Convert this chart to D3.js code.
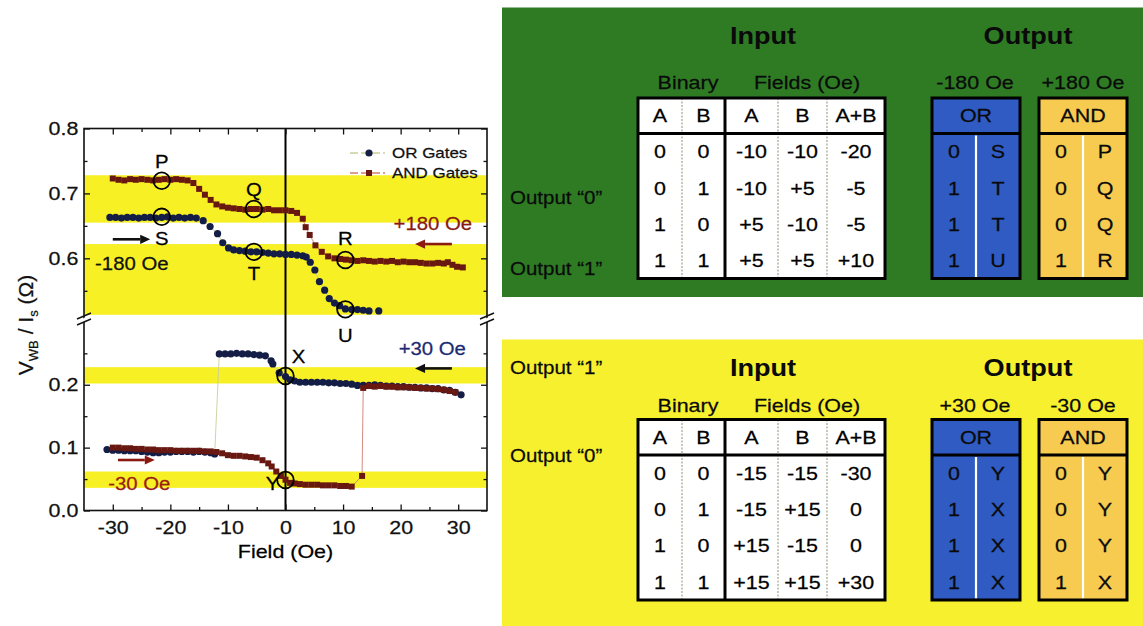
<!DOCTYPE html>
<html>
<head>
<meta charset="utf-8">
<script src="https://cdn.jsdelivr.net/npm/d3@7"></script>
<style>
  html, body { margin: 0; padding: 0; background: #fff; }
  svg { display: block; font-family: "Liberation Sans", Arial, Helvetica, sans-serif; }
</style>
</head>
<body>
<svg id="fig" width="1143" height="626"></svg>
<script>
// ---------- measured series: [field (Oe), V_WB / I_s (Ohm)] ----------
const andUpper = [
  [-30,0.723],[-29,0.721],[-28,0.720],[-27,0.722],[-26,0.721],[-25,0.722],[-24,0.721],[-23,0.720],
  [-22,0.721],[-21,0.722],[-20,0.721],[-19,0.722],[-18,0.721],[-17,0.720],[-16,0.716],[-15,0.707],
  [-14,0.698],[-13,0.690],[-12,0.683],[-11,0.680],[-10,0.678],[-9,0.677],[-8,0.676],[-7,0.675],
  [-6,0.676],[-5,0.676],[-4,0.675],[-3,0.676],[-2,0.674],[-1,0.674],[0,0.674],[1,0.673],[2,0.670],
  [3,0.661],[3.5,0.648],[4.2,0.636],[5.2,0.620],[6.3,0.610],[7.4,0.603],[8.5,0.600],[9.5,0.599],
  [10.5,0.598],[11.5,0.597],[12.5,0.596],[13.5,0.597],[14.5,0.596],[15.5,0.595],[16.5,0.596],
  [17.5,0.595],[18.5,0.596],[19.5,0.594],[20.5,0.595],[21.5,0.594],[22.5,0.594],[23.5,0.593],
  [24.5,0.592],[25.5,0.592],[26.5,0.593],[27.5,0.592],[28.2,0.594],[29,0.590],[29.8,0.587],[30.8,0.586]
];
const orUpper = [
  [-30.5,0.663],[-29.5,0.663],[-28.5,0.662],[-27.5,0.663],[-26.5,0.663],[-25.5,0.662],[-24.5,0.663],
  [-23.5,0.663],[-22.5,0.662],[-21.5,0.663],[-20.5,0.664],[-19.5,0.662],[-18.5,0.663],[-17.5,0.662],
  [-16.5,0.663],[-15.5,0.662],[-14.3,0.658],[-13.1,0.649],[-11.8,0.638],[-10.9,0.624],[-9.9,0.616],
  [-9,0.613],[-8,0.612],[-7,0.611],[-6,0.610],[-5,0.610],[-4,0.609],[-3,0.608],[-2,0.607],[-1,0.607],
  [0,0.606],[1,0.606],[2,0.605],[3,0.604],[3.6,0.602],[4.3,0.594],[5.1,0.582],[5.9,0.564],[6.8,0.551],
  [7.6,0.538],[8.5,0.531],[9.4,0.527],[10.4,0.522],[11.5,0.521],[12.5,0.521],[13.5,0.520],[14.5,0.519],
  [16.2,0.519]
];
const orLower = [
  [-31,0.097],[-30,0.096],[-29,0.096],[-28,0.095],[-27,0.095],[-26,0.095],[-25,0.094],[-24,0.093],
  [-23,0.092],[-22,0.092],[-21,0.093],[-20,0.093],[-19,0.094],[-18,0.094],[-17,0.094],[-16,0.093],
  [-15,0.094],[-14,0.093],[-13,0.092],[-12.3,0.090],[-11.5,0.249],[-10.5,0.249],[-9.5,0.249],
  [-8.5,0.250],[-7.5,0.249],[-6.5,0.249],[-5.5,0.248],[-4.5,0.247],[-3.5,0.246],[-2.5,0.238],
  [-2.2,0.233],[-1.1,0.219],[0,0.213],[0.8,0.208],[1.6,0.206],[2.5,0.204],[3.5,0.204],[4.5,0.204],
  [5.5,0.204],[6.5,0.204],[7.5,0.203],[8.5,0.203],[9.5,0.202],[10.5,0.202],[11.5,0.201],[12.5,0.199],
  [13.5,0.199],[14.5,0.199],[15.5,0.200],[16.5,0.199],[17.5,0.198],[18.5,0.198],[19.5,0.197],
  [20.5,0.197],[21.5,0.196],[22.5,0.196],[23.5,0.195],[24.5,0.195],[25.5,0.194],[26.5,0.194],
  [27.5,0.192],[28.5,0.191],[29.5,0.188],[30.5,0.184]
];
const andLower = [
  [-30,0.100],[-29,0.100],[-28,0.099],[-27,0.099],[-26,0.098],[-25,0.098],[-24,0.097],[-23,0.097],
  [-22,0.096],[-21,0.096],[-20,0.096],[-19,0.095],[-18,0.095],[-17,0.095],[-16,0.095],[-15,0.095],
  [-14,0.094],[-13,0.094],[-12,0.093],[-11,0.091],[-10,0.088],[-9,0.087],[-8,0.087],[-7,0.086],
  [-6,0.085],[-5,0.084],[-4,0.080],[-3,0.075],[-2.4,0.070],[-1.6,0.062],[-0.8,0.055],[0,0.049],
  [0.8,0.044],[1.6,0.043],[2.5,0.042],[3.5,0.041],[4.5,0.041],[5.5,0.041],[6.5,0.040],[7.5,0.040],
  [8.5,0.040],[9.5,0.039],[10.5,0.039],[11.5,0.038],[13.3,0.055],[13.5,0.195],[14.5,0.198],
  [15.5,0.197],[16.5,0.198],[17.5,0.197],[18.5,0.197],[19.5,0.196],[20.5,0.196],[21.5,0.196],
  [22.5,0.195],[23.5,0.195],[24.5,0.194],[25.5,0.194],[26.5,0.193],[27.5,0.192],[28.5,0.190],[29.5,0.188]
];

// ---------- axes ----------
const xDomain = [-35, 35];
const xTicks = [-30, -20, -10, 0, 10, 20, 30];
const xMinor = [-25, -15, -5, 5, 15, 25];
const yUpperDomain = [0.505, 0.8];
const yUpperTicks = [0.6, 0.7, 0.8];
const yUpperMinor = [0.55, 0.65, 0.75];
const yLowerDomain = [0, 0.303];
const yLowerTicks = [0, 0.1, 0.2];
const yLowerMinor = [0.05, 0.15, 0.25];

// output-level windows (shaded)
const upperBands = [[0.655, 0.728], [0.513, 0.622]];
const lowerBands = [[0.202, 0.228], [0.036, 0.062]];

// labelled states
const upperStates = [
  { id: "P", x: -21.5, y: 0.7195, dx: 0, dy: -19 },
  { id: "S", x: -21.5, y: 0.664, dx: 0, dy: 22 },
  { id: "Q", x: -5.5, y: 0.676, dx: 0, dy: -19 },
  { id: "T", x: -5.5, y: 0.610, dx: 0, dy: 22 },
  { id: "R", x: 10.4, y: 0.5974, dx: 0, dy: -21 },
  { id: "U", x: 10.4, y: 0.5214, dx: 0, dy: 26 }
];
const lowerStates = [
  { id: "X", x: 0, y: 0.2139, dx: 13, dy: -19 },
  { id: "Y", x: 0, y: 0.0485, dx: -13, dy: 4 }
];

// bias-field annotations
const upperNotes = [
  { text: "-180 Oe", x: -26.7, y: 0.5923, fill: "#111" },
  { text: "+180 Oe", x: 25.6, y: 0.654, fill: "#8a1a10" }
];
const lowerNotes = [
  { text: "+30 Oe", x: 25.5, y: 0.258, fill: "#1b2a72" },
  { text: "-30 Oe", x: -25.4, y: 0.0433, fill: "#9a1e10" }
];
const upperArrows = [
  { from: -30, to: -23.5, y: 0.6293, fill: "#111" },
  { from: 28.9, to: 22.5, y: 0.622, fill: "#8a1a10" }
];
const lowerArrows = [
  { from: 28.9, to: 22.5, y: 0.226, fill: "#111" },
  { from: -29.1, to: -22.7, y: 0.0803, fill: "#8a1a10" }
];

// ---------- truth tables ----------
const inputHead = ["A", "B", "A", "B", "A+B"];
const topInputs = [
  ["0", "0", "-10", "-10", "-20"],
  ["0", "1", "-10", "+5", "-5"],
  ["1", "0", "+5", "-10", "-5"],
  ["1", "1", "+5", "+5", "+10"]
];
const topOr = [["0", "S"], ["1", "T"], ["1", "T"], ["1", "U"]];
const topAnd = [["0", "P"], ["0", "Q"], ["0", "Q"], ["1", "R"]];
const botInputs = [
  ["0", "0", "-15", "-15", "-30"],
  ["0", "1", "-15", "+15", "0"],
  ["1", "0", "+15", "-15", "0"],
  ["1", "1", "+15", "+15", "+30"]
];
const botOr = [["0", "Y"], ["1", "X"], ["1", "X"], ["1", "X"]];
const botAnd = [["0", "Y"], ["0", "Y"], ["0", "Y"], ["1", "X"]];

// ---------- drawing ----------
const svg = d3.select("#fig");
const SX = 1.13; // lettering is set slightly wide throughout the figure

const C = {
  green: "#2e7b24", panelYellow: "#f7f02f", band: "#f7f025",
  blue: "#2f5bc2", orange: "#f6cb50",
  orMark: "#131d45", andMark: "#681810",
  orLine: "#c8cf9a", andLine: "#cf7d72"
};

function label(parent, x, y, str, size, o = {}) {
  return parent.append("text")
    .attr("transform", `translate(${x},${y}) scale(${o.sx ?? SX},1)`)
    .attr("text-anchor", o.anchor || "middle")
    .attr("dy", "0.35em")
    .attr("font-size", size)
    .attr("font-weight", o.weight || "normal")
    .attr("fill", o.fill || "#000")
    .attr("stroke", o.weight === "bold" ? "none" : (o.fill || "#000"))
    .attr("stroke-width", 0.25)
    .text(str);
}

// ======== left: field sweeps ========
const L = 84, R = 487, TOP = 128.5, BOT = 510.5, BREAK = 320;
const x = d3.scaleLinear().domain(xDomain).range([L, R]);
const yUp = d3.scaleLinear().domain(yUpperDomain).range([BREAK, TOP]);
const yLo = d3.scaleLinear().domain(yLowerDomain).range([BOT, BREAK]);

const plot = svg.append("g");

// shaded windows
plot.selectAll("rect.bu").data(upperBands).join("rect")
  .attr("x", L).attr("width", R - L)
  .attr("y", d => yUp(d[1])).attr("height", d => yUp(d[0]) - yUp(d[1]))
  .attr("fill", C.band);
plot.selectAll("rect.bl").data(lowerBands).join("rect")
  .attr("x", L).attr("width", R - L)
  .attr("y", d => yLo(d[1])).attr("height", d => yLo(d[0]) - yLo(d[1]))
  .attr("fill", C.band);

// zero-field line
plot.append("line").attr("x1", x(0)).attr("x2", x(0)).attr("y1", TOP).attr("y2", BOT)
  .attr("stroke", "#000").attr("stroke-width", 2);

function series(data, ys, lineColor, markColor, shape) {
  const line = d3.line().x(d => x(d[0])).y(d => ys(d[1]));
  plot.append("path").datum(data).attr("d", line)
    .attr("fill", "none").attr("stroke", lineColor).attr("stroke-width", 0.9);
  if (shape === "circle") {
    plot.append("g").selectAll("circle").data(data).join("circle")
      .attr("cx", d => x(d[0])).attr("cy", d => ys(d[1])).attr("r", 3.6)
      .attr("fill", markColor);
  } else {
    plot.append("g").selectAll("rect").data(data).join("rect")
      .attr("x", d => x(d[0]) - 3).attr("y", d => ys(d[1]) - 3)
      .attr("width", 6).attr("height", 6).attr("fill", markColor);
  }
}
series(orUpper, yUp, C.orLine, C.orMark, "circle");
series(andUpper, yUp, C.andLine, C.andMark, "square");
series(orLower, yLo, C.orLine, C.orMark, "circle");
series(andLower, yLo, C.andLine, C.andMark, "square");

// state circles and letters
function states(list, ys) {
  list.forEach(s => {
    plot.append("circle").attr("cx", x(s.x)).attr("cy", ys(s.y)).attr("r", 8.3)
      .attr("fill", "none").attr("stroke", "#000").attr("stroke-width", 1.8);
    label(plot, x(s.x) + s.dx, ys(s.y) + s.dy, s.id, 18);
  });
}
states(upperStates, yUp);
states(lowerStates, yLo);

function notes(list, ys) {
  list.forEach(n => label(plot, x(n.x), ys(n.y), n.text, 18, { fill: n.fill }));
}
notes(upperNotes, yUp);
notes(lowerNotes, yLo);

function arrows(list, ys) {
  list.forEach(a => {
    const x1 = x(a.from), x2 = x(a.to), yy = ys(a.y);
    const dir = Math.sign(x2 - x1), head = 10;
    plot.append("line").attr("x1", x1).attr("x2", x2 - dir * head).attr("y1", yy).attr("y2", yy)
      .attr("stroke", a.fill).attr("stroke-width", 2.6);
    plot.append("path")
      .attr("d", `M${x2},${yy} L${x2 - dir * head},${yy - 4.6} L${x2 - dir * head},${yy + 4.6} Z`)
      .attr("fill", a.fill);
  });
}
arrows(upperArrows, yUp);
arrows(lowerArrows, yLo);

// frame
plot.append("rect").attr("x", L).attr("y", TOP).attr("width", R - L).attr("height", BOT - TOP)
  .attr("fill", "none").attr("stroke", "#111").attr("stroke-width", 1.6);

// ticks (all pointing inward)
function axis(gen, tx, ty, size, labelled, fmt, pad) {
  const g = plot.append("g").attr("transform", `translate(${tx},${ty})`)
    .call(gen.tickSize(size).tickPadding(pad).tickFormat(labelled ? fmt : () => ""));
  g.attr("font-size", null).attr("font-family", null);
  g.select(".domain").remove();
  g.selectAll(".tick line").attr("stroke", "#111").attr("stroke-width", 1.3);
  g.selectAll(".tick text").attr("font-size", 19).attr("fill", "#111")
    .attr("stroke", "#111").attr("stroke-width", 0.25)
    .attr("transform", `scale(${SX},1)`);
  return g;
}
const fx = d => String(d);
const fy = d3.format(".1f");
axis(d3.axisBottom(x).tickValues(xTicks), 0, BOT, -6, true, fx, 10);
axis(d3.axisBottom(x).tickValues(xMinor), 0, BOT, -3.5, false, fx, 10);
axis(d3.axisTop(x).tickValues(xTicks), 0, TOP, -6, false, fx, 6);
axis(d3.axisTop(x).tickValues(xMinor), 0, TOP, -3.5, false, fx, 6);
axis(d3.axisLeft(yUp).tickValues(yUpperTicks), L, 0, -6, true, fy, 5);
axis(d3.axisLeft(yUp).tickValues(yUpperMinor), L, 0, -3.5, false, fy, 5);
axis(d3.axisLeft(yLo).tickValues(yLowerTicks), L, 0, -6, true, fy, 5);
axis(d3.axisLeft(yLo).tickValues(yLowerMinor), L, 0, -3.5, false, fy, 5);
axis(d3.axisRight(yUp).tickValues(yUpperTicks), R, 0, -6, false, fy, 5);
axis(d3.axisRight(yUp).tickValues(yUpperMinor), R, 0, -3.5, false, fy, 5);
axis(d3.axisRight(yLo).tickValues(yLowerTicks), R, 0, -6, false, fy, 5);
axis(d3.axisRight(yLo).tickValues(yLowerMinor), R, 0, -3.5, false, fy, 5);

// axis breaks
[L, R].forEach(ax => {
  plot.append("path")
    .attr("d", `M${ax - 7},${BREAK + 1} L${ax + 7},${BREAK - 5} L${ax + 7},${BREAK - 1} L${ax - 7},${BREAK + 5} Z`)
    .attr("fill", "#fff");
  [-3, 3].forEach(o => {
    plot.append("line")
      .attr("x1", ax - 7).attr("y1", BREAK + o + 2).attr("x2", ax + 7).attr("y2", BREAK + o - 4)
      .attr("stroke", "#111").attr("stroke-width", 1.4);
  });
});

// axis titles
label(plot, x(0), 551, "Field (Oe)", 19);
const yt = plot.append("text")
  .attr("transform", "translate(26,325) rotate(-90)")
  .attr("text-anchor", "middle").attr("dy", "0.35em")
  .attr("font-size", 21).attr("fill", "#111")
  .attr("stroke", "#111").attr("stroke-width", 0.25);
yt.append("tspan").text("V");
yt.append("tspan").attr("font-size", 13).attr("dy", 5).text("WB");
yt.append("tspan").attr("dy", -5).text(" / I");
yt.append("tspan").attr("font-size", 13).attr("dy", 5).text("s");
yt.append("tspan").attr("dy", -5).text(" (\u03A9)");

// legend
const legend = [
  { name: "OR Gates", line: C.orLine, mark: C.orMark, shape: "circle" },
  { name: "AND Gates", line: C.andLine, mark: C.andMark, shape: "square" }
];
legend.forEach((d, i) => {
  const ly = 153 + i * 20, lx = R - 137;
  plot.append("line").attr("x1", lx).attr("x2", lx + 35).attr("y1", ly).attr("y2", ly)
    .attr("stroke", d.line).attr("stroke-width", 1.4).attr("stroke-dasharray", "8,3");
  if (d.shape === "circle") {
    plot.append("circle").attr("cx", lx + 19).attr("cy", ly).attr("r", 3.6).attr("fill", d.mark);
  } else {
    plot.append("rect").attr("x", lx + 16).attr("y", ly - 3).attr("width", 6).attr("height", 6)
      .attr("fill", d.mark);
  }
  label(plot, lx + 42, ly, d.name, 15, { anchor: "start", fill: "#111" });
});

// ======== right: truth-table panels ========
function panel(p) {
  const g = svg.append("g");
  g.append("rect").attr("x", 502).attr("y", p.top).attr("width", 641).attr("height", p.height)
    .attr("fill", p.bg);

  label(g, 763, p.titleY, "Input", 24, { weight: "bold", fill: "#0a0a0a" });
  label(g, 1028, p.titleY, "Output", 24, { weight: "bold", fill: "#0a0a0a" });
  label(g, 688, p.subY, "Binary", 19, { fill: "#0a0a0a" });
  label(g, 807, p.subY, "Fields (Oe)", 19, { fill: "#0a0a0a" });
  label(g, 975, p.subY, p.orField, 19, { fill: "#0a0a0a" });
  label(g, 1083, p.subY, p.andField, 19, { fill: "#0a0a0a" });
  p.side.forEach(s => label(g, 510, s.y, s.text, 19, { anchor: "start", fill: "#0a0a0a", sx: 1.08 }));

  const t = p.tableTop, hb = t + 35.5, bot = t + 180.5;
  const rows = d3.scaleBand().domain(d3.range(4)).range([hb, bot]);
  const hy = (t + hb) / 2;

  // input table
  const cols = [638, 682, 725, 778, 827, 885];
  const mid = i => (cols[i] + cols[i + 1]) / 2;
  g.append("rect").attr("x", cols[0]).attr("y", t).attr("width", cols[5] - cols[0]).attr("height", bot - t)
    .attr("fill", "#fff");
  [1, 3, 4].forEach(i => g.append("line").attr("x1", cols[i]).attr("x2", cols[i])
    .attr("y1", t).attr("y2", bot).attr("stroke", "#b5bca8").attr("stroke-width", 1.6)
    .attr("stroke-dasharray", "2,1.5"));
  g.append("line").attr("x1", cols[2]).attr("x2", cols[2]).attr("y1", t).attr("y2", bot)
    .attr("stroke", "#000").attr("stroke-width", 3);
  g.append("line").attr("x1", cols[0]).attr("x2", cols[5]).attr("y1", hb).attr("y2", hb)
    .attr("stroke", "#000").attr("stroke-width", 3);
  g.append("rect").attr("x", cols[0]).attr("y", t).attr("width", cols[5] - cols[0]).attr("height", bot - t)
    .attr("fill", "none").attr("stroke", "#000").attr("stroke-width", 3);
  inputHead.forEach((h, i) => label(g, mid(i), hy, h, 19));
  p.inputs.forEach((r, j) => r.forEach((v, i) =>
    label(g, mid(i), rows(j) + rows.bandwidth() / 2, v, 19)));

  // output boxes
  function box(x0, x1, fill, title, data) {
    const xm = (x0 + x1) / 2;
    g.append("rect").attr("x", x0).attr("y", t).attr("width", x1 - x0).attr("height", bot - t)
      .attr("fill", fill);
    g.append("line").attr("x1", xm).attr("x2", xm).attr("y1", hb + 2).attr("y2", bot - 1.5)
      .attr("stroke", "#fff").attr("stroke-width", 2.2);
    g.append("line").attr("x1", x0).attr("x2", x1).attr("y1", hb).attr("y2", hb)
      .attr("stroke", "#000").attr("stroke-width", 3);
    g.append("rect").attr("x", x0).attr("y", t).attr("width", x1 - x0).attr("height", bot - t)
      .attr("fill", "none").attr("stroke", "#000").attr("stroke-width", 3);
    label(g, xm, hy, title, 19, { fill: "#0a0a0a" });
    data.forEach((r, j) => {
      const cy = rows(j) + rows.bandwidth() / 2;
      label(g, (x0 + xm) / 2, cy, r[0], 19, { fill: "#0a0a0a" });
      label(g, (xm + x1) / 2, cy, r[1], 19, { fill: "#0a0a0a" });
    });
  }
  box(932, 1020, C.blue, "OR", p.or);
  box(1039, 1127, C.orange, "AND", p.and);
}

panel({
  top: 7.5, height: 289.5, bg: C.green, titleY: 36, subY: 82, tableTop: 98,
  orField: "-180 Oe", andField: "+180 Oe",
  side: [{ y: 197, text: "Output \u201C0\u201D" }, { y: 268, text: "Output \u201C1\u201D" }],
  inputs: topInputs, or: topOr, and: topAnd
});
panel({
  top: 339.5, height: 286.5, bg: C.panelYellow, titleY: 367.5, subY: 405, tableTop: 419.5,
  orField: "+30 Oe", andField: "-30 Oe",
  side: [{ y: 367, text: "Output \u201C1\u201D" }, { y: 455, text: "Output \u201C0\u201D" }],
  inputs: botInputs, or: botOr, and: botAnd
});
</script>
</body>
</html>
